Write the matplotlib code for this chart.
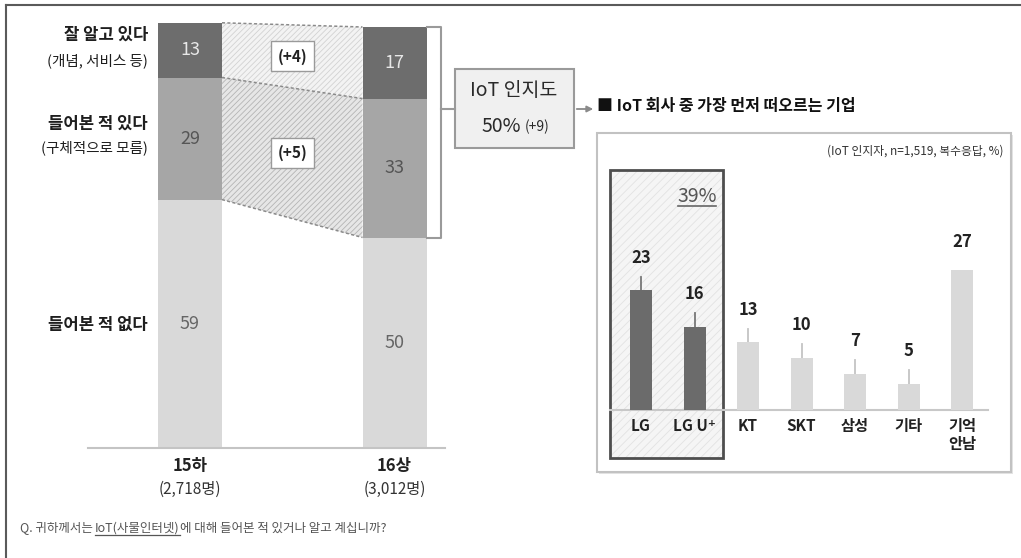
import matplotlib
matplotlib.use("Agg")
import matplotlib.pyplot as plt
import matplotlib.transforms as mtransforms
from matplotlib.patches import Rectangle, Polygon, FancyArrowPatch

plt.rcParams['font.family'] = ['Noto Sans CJK KR', 'DejaVu Sans']
plt.rcParams['hatch.linewidth'] = 0.6

# ---------------- data ----------------
periods = ['15하', '16상']
period_sizes = ['(2,718명)', '(3,012명)']
well_known = [13, 17]      # 잘 알고 있다
heard_of = [29, 33]        # 들어본 적 있다
never_heard = [59, 50]     # 들어본 적 없다
change_labels = ['(+4)', '(+5)']
awareness_label = ['IoT 인지도', '50%', '(+9)']

companies = ['LG', 'LG U⁺', 'KT', 'SKT', '삼성', '기타', '기억\n안남']
company_pct = [23, 16, 13, 10, 7, 5, 27]
lg_total_label = '39%'
show_leader = [True, True, True, True, True, True, False]

W, H = 1021, 558
fig = plt.figure(figsize=(W / 100, H / 100), dpi=100)


def frac(x0, y0, x1, y1):
    return [x0 / W, 1 - y1 / H, (x1 - x0) / W, (y1 - y0) / H]


# background / decoration axes in pixel coordinates
bg = fig.add_axes([0, 0, 1, 1], zorder=0)
bg.set_xlim(0, W)
bg.set_ylim(H, 0)
bg.axis('off')

# outer frame (top + left)
bg.plot([6, 6], [5, H + 5], color='#5a5a5a', lw=1.5, clip_on=False)
bg.plot([6, W + 5], [5, 5], color='#5a5a5a', lw=1.5, clip_on=False)

# ---------------- left stacked chart ----------------
axL = fig.add_axes(frac(88, 27, 445, 448), zorder=2)
axL.patch.set_alpha(0)
c0, c1 = 190.0, 394.5
ppu = c1 - c0
axL.set_xlim(-(c0 - 88) / ppu, 1 + (445 - c1) / ppu)
axL.set_ylim(0, 100)
bw = 64 / ppu
x = [0, 1]
col_never, col_heard, col_well = '#d9d9d9', '#a6a6a6', '#6d6d6d'
axL.bar(x, never_heard, bw, color=col_never, clip_on=False)
axL.bar(x, heard_of, bw, bottom=never_heard, color=col_heard, clip_on=False)
mid = [n + h for n, h in zip(never_heard, heard_of)]
axL.bar(x, well_known, bw, bottom=mid, color=col_well, clip_on=False)
top = [m + w for m, w in zip(mid, well_known)]

for s in ['top', 'right', 'left']:
    axL.spines[s].set_visible(False)
axL.spines['bottom'].set_color('#c4c4c4')
axL.spines['bottom'].set_linewidth(1.5)
axL.set_xticks([])
axL.set_yticks([])

# connecting hatched trapezoids
xa, xb = 0 + bw / 2, 1 - bw / 2
top_poly = Polygon([(xa, top[0]), (xb, top[1]), (xb, mid[1]), (xa, mid[0])],
                   closed=True, facecolor='#f3f3f3', edgecolor='#d2d2d2',
                   hatch='//////', lw=0, zorder=1, clip_on=False)
bot_poly = Polygon([(xa, mid[0]), (xb, mid[1]), (xb, never_heard[1]), (xa, never_heard[0])],
                   closed=True, facecolor='#e6e6e6', edgecolor='#b4b4b4',
                   hatch='//////', lw=0, zorder=1, clip_on=False)
axL.add_patch(top_poly)
axL.add_patch(bot_poly)
for ya, yb in [(top[0], top[1]), (mid[0], mid[1]), (never_heard[0], never_heard[1])]:
    axL.plot([xa, xb], [ya, yb], ls=(0, (2, 1.5)), color='#8a8a8a', lw=1.1,
             clip_on=False, zorder=2)

# change labels
y_top_c = ((top[0] + top[1]) / 2 + (mid[0] + mid[1]) / 2) / 2
y_bot_c = ((mid[0] + mid[1]) / 2 + (never_heard[0] + never_heard[1]) / 2) / 2
for yc, lab in [(y_top_c, change_labels[0]), (y_bot_c, change_labels[1])]:
    axL.text(0.5, yc, lab, ha='center', va='center', fontsize=11,
             fontweight='bold', color='#222222', zorder=4,
             bbox=dict(boxstyle='square,pad=0.45', fc='white', ec='#9a9a9a', lw=1))

# numbers inside bars
for i in range(2):
    axL.text(i, never_heard[i] / 2, str(never_heard[i]),
             ha='center', va='center', fontsize=13, color='#666666')
    axL.text(i, never_heard[i] + heard_of[i] / 2, str(heard_of[i]),
             ha='center', va='center', fontsize=13, color='#555555')
    axL.text(i, mid[i] + well_known[i] / 2, str(well_known[i]),
             ha='center', va='center', fontsize=13, color='#e8e8e8')

# period labels under axis
tr = mtransforms.blended_transform_factory(axL.transData, bg.transData)
for i in range(2):
    axL.text(i, 466, periods[i], transform=tr, ha='center', va='center',
             fontsize=12, fontweight='bold', color='#222222', clip_on=False)
    axL.text(i, 489, period_sizes[i], transform=tr, ha='center', va='center',
             fontsize=11, color='#333333', clip_on=False)

# bracket on 16상
xr = 1 + bw / 2
xbk = 1 + (441 - c1) / ppu
axL.plot([xr, xbk, xbk, xr], [top[1], top[1], never_heard[1], never_heard[1]],
         color='#9a9a9a', lw=1.5, clip_on=False)

# category labels on the left
lab_kw = dict(ha='right', va='center', color='#1e1e1e')
bg.text(148, 35, '잘 알고 있다', fontsize=12, fontweight='bold', **lab_kw)
bg.text(148, 61, '(개념, 서비스 등)', fontsize=10.5, **lab_kw)
bg.text(148, 124, '들어본 적 있다', fontsize=12, fontweight='bold', **lab_kw)
bg.text(148, 148, '(구체적으로 모름)', fontsize=10.5, **lab_kw)
bg.text(148, 325, '들어본 적 없다', fontsize=12, fontweight='bold', **lab_kw)

# awareness box
bg.plot([441, 455], [109, 109], color='#9a9a9a', lw=1.5)
bg.add_patch(Rectangle((455, 69), 119, 79, facecolor='#f0f0f0', edgecolor='#9a9a9a', lw=1.5))
bg.text(514, 90, awareness_label[0], ha='center', va='center', fontsize=14, color='#2a2a2a')
bg.text(521, 126, awareness_label[1], ha='right', va='center', fontsize=14, color='#2a2a2a')
bg.text(525, 127, awareness_label[2], ha='left', va='center', fontsize=10, color='#2a2a2a')
bg.add_patch(FancyArrowPatch((574, 109), (596, 109), arrowstyle='-|>', mutation_scale=9,
                             color='#8a8a8a', lw=1.3))
bg.text(597, 106, '■ IoT 회사 중 가장 먼저 떠오르는 기업', ha='left', va='center',
        fontsize=11.5, fontweight='bold', color='#111111')

# right panel frame + shadow
bg.add_patch(Rectangle((599, 135), 414, 339, facecolor='#e4e4e4', edgecolor='none'))
bg.add_patch(Rectangle((597, 133), 414, 339, facecolor='white', edgecolor='#c2c2c2', lw=1.5))
bg.text(1003, 151, '(IoT 인지자, n=1,519, 복수응답, %)', ha='right', va='center',
        fontsize=8.5, color='#333333')

# LG group highlight box
bg.add_patch(Rectangle((610, 170), 113, 288, facecolor='#f5f5f5', edgecolor='#e2e2e2',
                       hatch='////', lw=0.01))
bg.add_patch(Rectangle((610, 170), 113, 288, facecolor='none', edgecolor='#4e4e4e', lw=2))
t39 = bg.text(697, 196, lg_total_label, ha='center', va='center', fontsize=14, color='#555555')

# ---------------- right bar chart ----------------
ppu2 = 5.2
axR = fig.add_axes(frac(610, 410 - 46 * ppu2, 988, 410), zorder=2)
axR.patch.set_alpha(0)
sp = 53.5
cx0 = 641
axR.set_xlim(-(cx0 - 610) / sp, 6 + (988 - (cx0 + 6 * sp)) / sp)
axR.set_ylim(0, 46)
xs = list(range(len(companies)))
cols = ['#6b6b6b' if i < 2 else '#d9d9d9' for i in xs]
axR.bar(xs, company_pct, 22 / sp, color=cols, zorder=3)
for i, v in enumerate(company_pct):
    if show_leader[i]:
        axR.plot([i, i], [v, v + 2.6], color='#777777' if i < 2 else '#c4c4c4', lw=1.3, zorder=2)
        axR.text(i, v + 6.3, str(v), ha='center', va='center', fontsize=12,
                 fontweight='bold', color='#222222')
    else:
        axR.text(i, v + 5.4, str(v), ha='center', va='center', fontsize=12,
                 fontweight='bold', color='#222222')
for s in ['top', 'right', 'left']:
    axR.spines[s].set_visible(False)
axR.spines['bottom'].set_color('#c8c8c8')
axR.spines['bottom'].set_linewidth(1.5)
axR.set_yticks([])
axR.set_xticks(xs)
axR.set_xticklabels(companies, fontsize=11, fontweight='bold', color='#222222',
                    linespacing=1.1)
axR.tick_params(axis='x', length=0, pad=6)

# question text with underline
renderer = fig.canvas.get_renderer()
inv = bg.transData.inverted()


def px_extent(t):
    bb = t.get_window_extent(renderer)
    (xa_, ya_), (xb_, yb_) = inv.transform([[bb.x0, bb.y0], [bb.x1, bb.y1]])
    return xa_, xb_, max(ya_, yb_), min(ya_, yb_)


qkw = dict(va='center', fontsize=9, color='#555555')
q1 = bg.text(20, 528, 'Q. 귀하께서는', ha='left', **qkw)
e1 = px_extent(q1)
q2 = bg.text(e1[1] + 2, 528, 'IoT(사물인터넷)', ha='left', **qkw)
e2 = px_extent(q2)
bg.plot([e2[0], e2[1]], [e2[2], e2[2]], color='#555555', lw=0.9)
bg.text(e2[1] + 1, 528, '에 대해 들어본 적 있거나 알고 계십니까?', ha='left', **qkw)

e39 = px_extent(t39)
bg.plot([e39[0] + 1, e39[1] - 1], [e39[2] - 1, e39[2] - 1], color='#666666', lw=1.2)

fig.savefig('out.png', dpi=100)
